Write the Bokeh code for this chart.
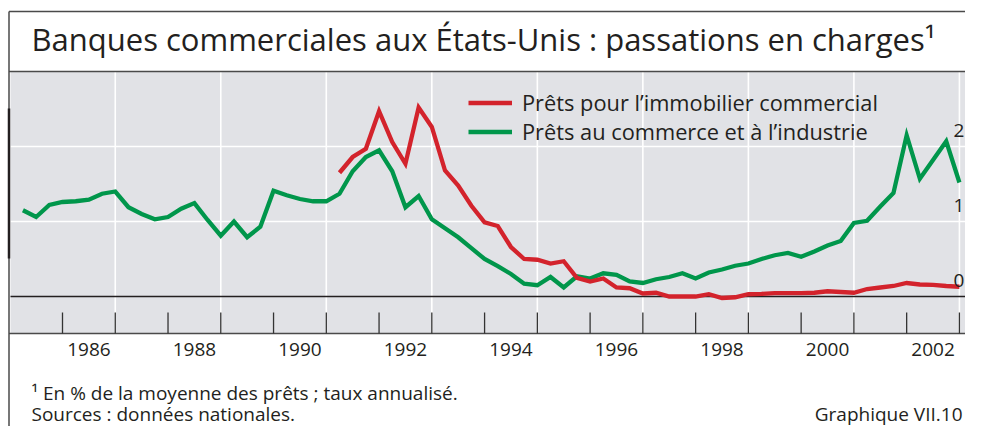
from bokeh.plotting import figure
from bokeh.models import Range1d, Legend, LegendItem
from bokeh.core.properties import value
from bokeh.embed import file_html
from bokeh.resources import INLINE

# ---------------- data ----------------
TITLE = "Banques commerciales aux États-Unis : passations en charges¹"
FOOTNOTE = "¹ En % de la moyenne des prêts ; taux annualisé."
SOURCES = "Sources : données nationales."
GRAPH_ID = "Graphique VII.10"

red_label = "Prêts pour l’immobilier commercial"
green_label = "Prêts au commerce et à l’industrie"

# quarterly observations
green_start = 1985.25
green_values = [
    1.15, 1.06, 1.22,                      # 1985 Q2-Q4
    1.26, 1.27, 1.29, 1.37,                # 1986
    1.40, 1.19, 1.10, 1.03,                # 1987
    1.06, 1.17, 1.245, 1.02,               # 1988
    0.81, 1.00, 0.79, 0.93,                # 1989
    1.41, 1.35, 1.30, 1.27,                # 1990
    1.27, 1.37, 1.67, 1.86,                # 1991
    1.95, 1.67, 1.19, 1.34,                # 1992
    1.03, 0.91, 0.79, 0.645,               # 1993
    0.50, 0.405, 0.30, 0.17,               # 1994
    0.15, 0.26, 0.12, 0.27,                # 1995
    0.24, 0.31, 0.29, 0.20,                # 1996
    0.18, 0.23, 0.26, 0.31,                # 1997
    0.24, 0.32, 0.36, 0.41,                # 1998
    0.44, 0.50, 0.55, 0.58,                # 1999
    0.53, 0.60, 0.68, 0.74,                # 2000
    0.98, 1.01, 1.20, 1.38,                # 2001
    2.15, 1.57, 1.82, 2.07,                # 2002
    1.52,                                  # 2003 Q1
]
red_start = 1991.25
red_values = [
    1.65, 1.86, 1.97,                      # 1991 Q2-Q4
    2.47, 2.06, 1.77, 2.52,                # 1992
    2.26, 1.68, 1.48, 1.21,                # 1993
    0.99, 0.94, 0.66, 0.50,                # 1994
    0.49, 0.44, 0.47, 0.25,                # 1995
    0.20, 0.24, 0.12, 0.11,                # 1996
    0.04, 0.05, 0.00, 0.00,                # 1997
    0.00, 0.03, -0.02, -0.01,              # 1998
    0.03, 0.035, 0.045, 0.045,             # 1999
    0.045, 0.05, 0.07, 0.06,               # 2000
    0.05, 0.10, 0.12, 0.14,                # 2001
    0.18, 0.16, 0.155, 0.14,               # 2002
    0.13,                                  # 2003 Q1
]
quarter = 0.25
green_x = [green_start + quarter * i for i in range(len(green_values))]
red_x = [red_start + quarter * i for i in range(len(red_values))]

tick_years = list(range(1986, 2004))
grid_years = list(range(1987, 2004, 2))
label_years = list(range(1986, 2003, 2))
year_labels = [str(y) for y in label_years]
y_grid_values = [1, 2]
y_label_values = [0, 1, 2]
y_labels = ["0", "1", "2"]

# ---------------- layout (pixels inside the figure) ----------------
W, H = 965, 426
X_1986 = 62.0        # px of 1986.0
PX_YEAR = 52.76      # px per year
Y_ZERO = 296.0       # px of value 0 (from top)
PX_UNIT = 75.0       # px per percentage point
BASE_SHIFT = 0.37    # svg text baseline compensation (em)


def dx(px):
    return 1986 + (px - X_1986) / PX_YEAR


def dy(py):
    return (Y_ZERO - py) / PX_UNIT


def by(baseline_px, size_px):
    return dy(baseline_px - BASE_SHIFT * size_px)


FONT = value("Open Sans")
TXT = "#231f20"
GRAY = "#e1e2e6"
GREEN = "#00964b"
RED = "#d3232c"

p = figure(width=W, height=H, output_backend="svg", toolbar_location=None,
           x_range=Range1d(dx(0), dx(W)), y_range=Range1d(dy(H), dy(0)),
           x_axis_location=None, y_axis_location=None, min_border=0,
           outline_line_color=None, background_fill_color="white",
           border_fill_color="white")
for g in p.grid:
    g.visible = False

frame_left, frame_top = 8.5, 11
plot_left, plot_top, plot_bottom, tick_top = 10, 71, 333, 312

# plot background
p.quad(left=[dx(plot_left)], right=[dx(W) + 1], top=[dy(plot_top)], bottom=[dy(plot_bottom)],
       fill_color=GRAY, line_color=None)

# white grid lines
p.segment(x0=grid_years, x1=grid_years, y0=dy(plot_top), y1=dy(plot_bottom),
          line_color="white", line_width=1.6)
p.segment(x0=dx(plot_left), x1=dx(W) + 1, y0=y_grid_values, y1=y_grid_values,
          line_color="white", line_width=1.6)

# frame lines
p.segment(x0=[dx(frame_left)] * 3, x1=[dx(W) + 1] * 3,
          y0=[dy(frame_top), dy(plot_top), dy(plot_bottom)],
          y1=[dy(frame_top), dy(plot_top), dy(plot_bottom)],
          line_color="#4a4a4a", line_width=1.5)
p.segment(x0=[dx(frame_left)], x1=[dx(frame_left)], y0=[dy(frame_top)], y1=[dy(H) - 1],
          line_color="#4a4a4a", line_width=1.5)
p.segment(x0=[dx(frame_left)], x1=[dx(frame_left)], y0=[dy(108)], y1=[dy(258)],
          line_color=TXT, line_width=2.5)

# zero line
p.segment(x0=[dx(plot_left)], x1=[dx(W) + 1], y0=[0], y1=[0], line_color=TXT, line_width=1.6)

# year ticks
p.segment(x0=tick_years, x1=tick_years, y0=dy(tick_top), y1=dy(plot_bottom),
          line_color="#333333", line_width=1.3)

# series
g_r = p.line(green_x, green_values, line_color=GREEN, line_width=4.3, line_join="miter")
r_r = p.line(red_x, red_values, line_color=RED, line_width=4.3, line_join="miter")

legend = Legend(items=[LegendItem(label=red_label, renderers=[r_r]),
                       LegendItem(label=green_label, renderers=[g_r])],
                location=(468, H - 146), orientation="vertical",
                glyph_width=44, glyph_height=27, label_height=27,
                label_standoff=10, spacing=0, padding=0, margin=0,
                background_fill_alpha=0, border_line_alpha=0,
                label_text_font="Open Sans", label_text_font_size="21.8px",
                label_text_color=TXT)
p.add_layout(legend)

# texts
p.text(x=[dx(31)], y=[by(50, 31)], text=[TITLE], text_font=FONT, text_font_size="31px",
       text_color=TXT, text_align="left", text_baseline="alphabetic")
p.text(x=[y + 0.5 for y in label_years], y=by(356, 19), text=year_labels, text_font=FONT,
       text_font_size="19px", text_color=TXT, text_align="center",
       text_baseline="alphabetic")
p.text(x=dx(953), y=y_label_values, text=y_labels, y_offset=-16, text_font=FONT,
       text_font_size="19px", text_color=TXT, text_align="left",
       text_baseline="alphabetic")
p.text(x=[dx(31)], y=[by(400, 19)], text=[FOOTNOTE], text_font=FONT, text_font_size="19px",
       text_color=TXT, text_align="left", text_baseline="alphabetic")
p.text(x=[dx(31)], y=[by(421, 19)], text=[SOURCES], text_font=FONT, text_font_size="19px",
       text_color=TXT, text_align="left", text_baseline="alphabetic")
p.text(x=[dx(962)], y=[by(421, 19)], text=[GRAPH_ID], text_font=FONT, text_font_size="19px",
       text_color=TXT, text_align="right", text_baseline="alphabetic")

with open("out.html", "w") as f:
    f.write(file_html(p, INLINE))
